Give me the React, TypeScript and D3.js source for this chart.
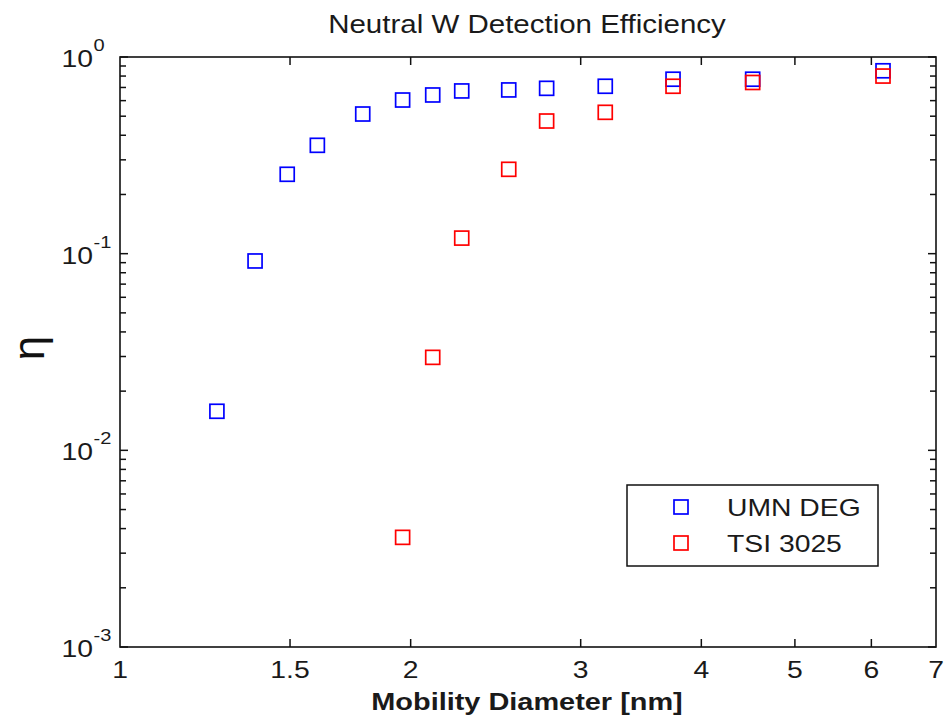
import React from "react";
import * as d3 from "d3";

const umnX = [1.26, 1.38, 1.49, 1.601, 1.784, 1.962, 2.108, 2.259, 2.527, 2.766, 3.181, 3.739, 4.521, 6.169];
const umnY = [0.0158, 0.0918, 0.2533, 0.3556, 0.513, 0.6043, 0.641, 0.672, 0.68, 0.693, 0.71, 0.771, 0.771, 0.851];
const tsiX = [1.962, 2.108, 2.259, 2.527, 2.766, 3.181, 3.739, 4.521, 6.169];
const tsiY = [0.00361, 0.0297, 0.12, 0.2685, 0.4726, 0.5233, 0.71, 0.742, 0.8];
const xTicks = [1, 1.5, 2, 3, 4, 5, 6, 7];
const xTickLabels = ["1", "1.5", "2", "3", "4", "5", "6", "7"];
const yDecades = [-3, -2, -1, 0];
const seriesNames = ["UMN DEG", "TSI 3025"];
const seriesColors = ["#0000ff", "#ff0000"];

const W = 946, H = 718;
const L = 120, R = 936, T = 57, B = 647;
const SX = 1.18;
const FONT = "'Liberation Sans', Arial, Helvetica, sans-serif";

function SText({ x, y, anchor = "start", size = 24, weight = "normal", children, fill = "#1a1a1a" }: any) {
  return (
    <text
      transform={`translate(${x},${y}) scale(${SX},1)`}
      textAnchor={anchor}
      fontSize={size}
      fontWeight={weight}
      fontFamily={FONT}
      fill={fill}
    >
      {children}
    </text>
  );
}

export default function App() {
  const x = d3.scaleLog().domain([1, 7]).range([L, R]);
  const y = d3.scaleLog().domain([1e-3, 1]).range([B, T]);
  const ms = 14;

  const minorY: number[] = [];
  for (const d of [-3, -2, -1]) {
    for (let k = 2; k <= 9; k++) minorY.push(k * Math.pow(10, d));
  }

  const series = [
    { xs: umnX, ys: umnY, color: seriesColors[0] },
    { xs: tsiX, ys: tsiY, color: seriesColors[1] },
  ];

  return (
    <svg
      width={W}
      height={H}
      style={{ position: "absolute", left: 0, top: 0, background: "#fff" }}
    >
      <rect x={0} y={0} width={W} height={H} fill="#fff" />
      {/* title */}
      <SText x={527} y={33} anchor="middle" size={25}>
        Neutral W Detection Efficiency
      </SText>

      {/* x ticks */}
      {xTicks.slice(1, -1).map((t) => (
        <g key={"xt" + t}>
          <line x1={x(t)} x2={x(t)} y1={B} y2={B - 8} stroke="#111" strokeWidth={1.5} />
          <line x1={x(t)} x2={x(t)} y1={T} y2={T + 8} stroke="#111" strokeWidth={1.5} />
        </g>
      ))}
      {xTicks.map((t, i) => (
        <SText key={"xl" + t} x={x(t)} y={678} anchor="middle" size={24}>
          {xTickLabels[i]}
        </SText>
      ))}

      {/* y ticks */}
      {minorY.map((v) => (
        <g key={"my" + v}>
          <line x1={L} x2={L + 6} y1={y(v)} y2={y(v)} stroke="#111" strokeWidth={1.5} />
          <line x1={R} x2={R - 6} y1={y(v)} y2={y(v)} stroke="#111" strokeWidth={1.5} />
        </g>
      ))}
      {yDecades.map((d) => {
        const v = Math.pow(10, d);
        const yy = y(v);
        return (
          <g key={"yd" + d}>
            <line x1={L} x2={L + 8} y1={yy} y2={yy} stroke="#111" strokeWidth={1.5} />
            <line x1={R} x2={R - 8} y1={yy} y2={yy} stroke="#111" strokeWidth={1.5} />
            <SText x={93} y={yy + 10} anchor="end" size={24}>
              10
            </SText>
            <SText x={93.5} y={yy - 6} anchor="start" size={17}>
              {String(d)}
            </SText>
          </g>
        );
      })}

      {/* frame */}
      <rect x={L} y={T} width={R - L} height={B - T} fill="none" stroke="#111" strokeWidth={1.6} />

      {/* data */}
      {series.map((s, si) =>
        s.xs.map((xv, i) => (
          <rect
            key={"p" + si + "-" + i}
            x={x(xv) - ms / 2}
            y={y(s.ys[i]) - ms / 2}
            width={ms}
            height={ms}
            fill="none"
            stroke={s.color}
            strokeWidth={1.7}
          />
        ))
      )}

      {/* axis labels */}
      <SText x={527} y={710} anchor="middle" size={24.5} weight="bold">
        Mobility Diameter [nm]
      </SText>
      <text
        transform={`translate(44,348) rotate(-90)`}
        textAnchor="middle"
        fontSize={44}
        fontFamily={FONT}
        fill="#111"
      >
        η
      </text>

      {/* legend */}
      <rect x={627} y={485} width={251} height={81} fill="#fff" stroke="#111" strokeWidth={1.5} />
      {seriesNames.map((n, i) => (
        <g key={"lg" + i}>
          <rect
            x={681 - ms / 2}
            y={507 + i * 36 - ms / 2}
            width={ms}
            height={ms}
            fill="none"
            stroke={seriesColors[i]}
            strokeWidth={1.7}
          />
          <SText x={727} y={516 + i * 36} size={24}>
            {n}
          </SText>
        </g>
      ))}
    </svg>
  );
}
